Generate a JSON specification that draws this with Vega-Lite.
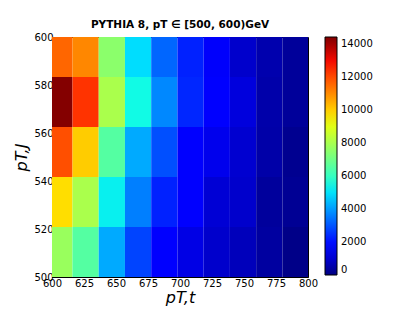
{
  "$schema": "https://vega.github.io/schema/vega-lite/v6.json",
  "width": 256,
  "height": 240,
  "autosize": {"type": "none"},
  "padding": {"left": 52, "top": 37, "right": 107, "bottom": 35},
  "background": "white",
  "config": {
    "font": "DejaVu Sans",
    "view": {"stroke": "black", "strokeWidth": 1},
    "axis": {"labelFont": "DejaVu Sans", "labelFontSize": 10, "labelColor": "black", "tickColor": "black", "domain": false, "grid": false, "titleColor": "black", "zindex": 1, "labelFlush": false, "labelOverlap": false}
  },
  "title": {"text": "PYTHIA 8, pT ∈ [500, 600)GeV", "fontSize": 10.5, "fontWeight": "bold", "color": "black", "offset": 2, "anchor": "middle"},
  "data": {
    "values": [
      {"x0": 600, "x1": 616, "y0": 583.3, "y1": 600, "v": 11590},
      {"x0": 616, "x1": 636.5, "y0": 583.3, "y1": 600, "v": 11080},
      {"x0": 636.5, "x1": 657, "y0": 583.3, "y1": 600, "v": 7510},
      {"x0": 657, "x1": 677.5, "y0": 583.3, "y1": 600, "v": 4940},
      {"x0": 677.5, "x1": 698, "y0": 583.3, "y1": 600, "v": 3250},
      {"x0": 698, "x1": 718.5, "y0": 583.3, "y1": 600, "v": 2280},
      {"x0": 718.5, "x1": 739, "y0": 583.3, "y1": 600, "v": 1550},
      {"x0": 739, "x1": 759.5, "y0": 583.3, "y1": 600, "v": 950},
      {"x0": 759.5, "x1": 780, "y0": 583.3, "y1": 600, "v": 580},
      {"x0": 780, "x1": 800, "y0": 583.3, "y1": 600, "v": 320},

      {"x0": 600, "x1": 616, "y0": 562.5, "y1": 583.3, "v": 14400},
      {"x0": 616, "x1": 636.5, "y0": 562.5, "y1": 583.3, "v": 12370},
      {"x0": 636.5, "x1": 657, "y0": 562.5, "y1": 583.3, "v": 8050},
      {"x0": 657, "x1": 677.5, "y0": 562.5, "y1": 583.3, "v": 5360},
      {"x0": 677.5, "x1": 698, "y0": 562.5, "y1": 583.3, "v": 3730},
      {"x0": 698, "x1": 718.5, "y0": 562.5, "y1": 583.3, "v": 2350},
      {"x0": 718.5, "x1": 739, "y0": 562.5, "y1": 583.3, "v": 1650},
      {"x0": 739, "x1": 759.5, "y0": 562.5, "y1": 583.3, "v": 1170},
      {"x0": 759.5, "x1": 780, "y0": 562.5, "y1": 583.3, "v": 530},
      {"x0": 780, "x1": 800, "y0": 562.5, "y1": 583.3, "v": 320},

      {"x0": 600, "x1": 616, "y0": 541.7, "y1": 562.5, "v": 11940},
      {"x0": 616, "x1": 636.5, "y0": 541.7, "y1": 562.5, "v": 10030},
      {"x0": 636.5, "x1": 657, "y0": 541.7, "y1": 562.5, "v": 6550},
      {"x0": 657, "x1": 677.5, "y0": 541.7, "y1": 562.5, "v": 4220},
      {"x0": 677.5, "x1": 698, "y0": 541.7, "y1": 562.5, "v": 2930},
      {"x0": 698, "x1": 718.5, "y0": 541.7, "y1": 562.5, "v": 1650},
      {"x0": 718.5, "x1": 739, "y0": 541.7, "y1": 562.5, "v": 1370},
      {"x0": 739, "x1": 759.5, "y0": 541.7, "y1": 562.5, "v": 1000},
      {"x0": 759.5, "x1": 780, "y0": 541.7, "y1": 562.5, "v": 500},
      {"x0": 780, "x1": 800, "y0": 541.7, "y1": 562.5, "v": 200},

      {"x0": 600, "x1": 616, "y0": 520.8, "y1": 541.7, "v": 9750},
      {"x0": 616, "x1": 636.5, "y0": 520.8, "y1": 541.7, "v": 8050},
      {"x0": 636.5, "x1": 657, "y0": 520.8, "y1": 541.7, "v": 5200},
      {"x0": 657, "x1": 677.5, "y0": 520.8, "y1": 541.7, "v": 3610},
      {"x0": 677.5, "x1": 698, "y0": 520.8, "y1": 541.7, "v": 2280},
      {"x0": 698, "x1": 718.5, "y0": 520.8, "y1": 541.7, "v": 1650},
      {"x0": 718.5, "x1": 739, "y0": 520.8, "y1": 541.7, "v": 1070},
      {"x0": 739, "x1": 759.5, "y0": 520.8, "y1": 541.7, "v": 950},
      {"x0": 759.5, "x1": 780, "y0": 520.8, "y1": 541.7, "v": 350},
      {"x0": 780, "x1": 800, "y0": 520.8, "y1": 541.7, "v": 250},

      {"x0": 600, "x1": 616, "y0": 500, "y1": 520.8, "v": 7750},
      {"x0": 616, "x1": 636.5, "y0": 500, "y1": 520.8, "v": 6550},
      {"x0": 636.5, "x1": 657, "y0": 500, "y1": 520.8, "v": 4220},
      {"x0": 657, "x1": 677.5, "y0": 500, "y1": 520.8, "v": 2770},
      {"x0": 677.5, "x1": 698, "y0": 500, "y1": 520.8, "v": 1650},
      {"x0": 698, "x1": 718.5, "y0": 500, "y1": 520.8, "v": 1270},
      {"x0": 718.5, "x1": 739, "y0": 500, "y1": 520.8, "v": 950},
      {"x0": 739, "x1": 759.5, "y0": 500, "y1": 520.8, "v": 740},
      {"x0": 759.5, "x1": 780, "y0": 500, "y1": 520.8, "v": 400},
      {"x0": 780, "x1": 800, "y0": 500, "y1": 520.8, "v": 100}
    ]
  },
  "mark": {"type": "rect"},
  "encoding": {
    "x": {"field": "x0", "type": "quantitative",
      "scale": {"domain": [600, 800], "nice": false, "zero": false},
      "axis": {"values": [600, 625, 650, 675, 700, 725, 750, 775, 800], "format": "d", "tickSize": -4, "labelPadding": 5, "title": "pT,t", "titleFont": "DejaVu Sans", "titleFontSize": 16, "titleFontStyle": "italic", "titleFontWeight": "normal", "titlePadding": 1}},
    "x2": {"field": "x1"},
    "y": {"field": "y0", "type": "quantitative",
      "scale": {"domain": [500, 600], "nice": false, "zero": false},
      "axis": {"values": [500, 520, 540, 560, 580, 600], "format": "d", "tickSize": -4, "labelPadding": 3, "title": "pT,J", "titleFont": "DejaVu Sans", "titleFontSize": 16, "titleFontStyle": "italic", "titleFontWeight": "normal", "titlePadding": 4}},
    "y2": {"field": "y1"},
    "color": {"field": "v", "type": "quantitative",
      "scale": {
        "domain": [0, 1589.5, 1806, 4913, 5057.5, 5419, 9248, 9392.5, 9537, 12860.5, 13149.5, 14450],
        "range": ["#000080", "#0000ff", "#0000ff", "#00dbff", "#00e6f7", "#14ffe2", "#eeff08", "#f7f600", "#ffec00", "#ff1300", "#e80000", "#800000"],
        "interpolate": "rgb"
      },
      "legend": {
        "title": null, "orient": "right", "offset": 17, "padding": 0,
        "gradientLength": 238, "gradientThickness": 12,
        "gradientStrokeColor": "black", "gradientStrokeWidth": 1,
        "values": [0, 2000, 4000, 6000, 8000, 10000, 12000, 14000],
        "format": "d",
        "labelFont": "DejaVu Sans", "labelFontSize": 10, "labelColor": "black", "labelOverlap": false, "labelOffset": 4
      }
    }
  }
}
